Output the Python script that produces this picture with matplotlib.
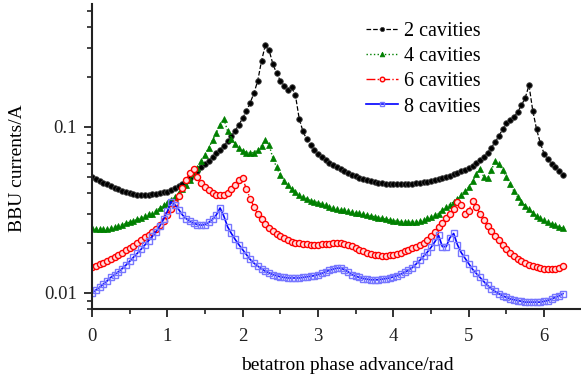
import numpy as np
import matplotlib
matplotlib.use("Agg")
import matplotlib.pyplot as plt
from matplotlib.ticker import LogLocator, NullFormatter, FixedLocator, FixedFormatter, MultipleLocator

plt.rcParams['font.family'] = ['Liberation Serif', 'DejaVu Serif']

phase = np.round(np.arange(126) * 0.05, 2)

cav2 = [0.050, 0.0485, 0.047, 0.046, 0.045, 0.044, 0.043, 0.042, 0.041, 0.0405,
        0.040, 0.0395, 0.039, 0.039, 0.039, 0.039, 0.0393, 0.0396, 0.040, 0.0403,
        0.0408, 0.0417, 0.0427, 0.044, 0.0453, 0.047, 0.0495, 0.052, 0.0545, 0.057,
        0.0595, 0.0625, 0.066, 0.0695, 0.073, 0.077, 0.082, 0.088, 0.095, 0.103,
        0.113, 0.125, 0.140, 0.160, 0.190, 0.250, 0.310, 0.290, 0.240, 0.210,
        0.190, 0.177, 0.167, 0.173, 0.155, 0.112, 0.094, 0.084, 0.078, 0.073,
        0.069, 0.066, 0.063, 0.061, 0.059, 0.057, 0.0555, 0.054, 0.0527, 0.0515,
        0.0505, 0.0495, 0.0485, 0.0478, 0.0472, 0.0466, 0.0462, 0.0458, 0.0455, 0.0453,
        0.0452, 0.0451, 0.0451, 0.0452, 0.0453, 0.0455, 0.0457, 0.0460, 0.0463, 0.0467,
        0.0472, 0.0477, 0.0483, 0.049, 0.0498, 0.0507, 0.0517, 0.0528, 0.054, 0.0553,
        0.0567, 0.0585, 0.0605, 0.063, 0.066, 0.070, 0.075, 0.081, 0.088, 0.097,
        0.105, 0.110, 0.115, 0.123, 0.135, 0.150, 0.178, 0.125, 0.097, 0.080,
        0.069, 0.064, 0.060, 0.057, 0.054, 0.051]

cav4 = [0.0245, 0.0243, 0.0242, 0.0242, 0.0243, 0.0245, 0.0248, 0.0252, 0.0257, 0.0262,
        0.0267, 0.0272, 0.0277, 0.0284, 0.0291, 0.0298, 0.030, 0.0313, 0.0325, 0.0338,
        0.0350, 0.0363, 0.038, 0.040, 0.042, 0.0445, 0.048, 0.052, 0.0565, 0.062,
        0.068, 0.075, 0.083, 0.092, 0.103, 0.112, 0.094, 0.085, 0.079, 0.075,
        0.072, 0.070, 0.0695, 0.070, 0.073, 0.077, 0.083, 0.078, 0.065, 0.057,
        0.051, 0.047, 0.0445, 0.042, 0.0405, 0.039, 0.038, 0.037, 0.036, 0.0355,
        0.035, 0.0343, 0.0337, 0.033, 0.0325, 0.032, 0.0317, 0.0314, 0.0311, 0.0308,
        0.0305, 0.0301, 0.0298, 0.0295, 0.0291, 0.0288, 0.0284, 0.0281, 0.0278, 0.0275,
        0.0272, 0.0270, 0.0268, 0.0267, 0.0267, 0.0267, 0.0268, 0.027, 0.0275, 0.0281,
        0.0287, 0.0293, 0.030, 0.0315, 0.0328, 0.034, 0.0355, 0.037, 0.039, 0.041,
        0.0435, 0.047, 0.052, 0.056, 0.050, 0.049, 0.055, 0.062, 0.060, 0.055,
        0.050, 0.045, 0.041, 0.0378, 0.0355, 0.0335, 0.032, 0.0305, 0.029, 0.0282,
        0.0274, 0.0267, 0.0261, 0.0255, 0.025, 0.0245]

cav6 = [0.0143, 0.0146, 0.0149, 0.0152, 0.0156, 0.016, 0.0165, 0.017, 0.0175, 0.0181,
        0.0187, 0.0193, 0.020, 0.0208, 0.0216, 0.0224, 0.0233, 0.0243, 0.0255, 0.0272,
        0.0295, 0.032, 0.035, 0.0385, 0.043, 0.048, 0.053, 0.056, 0.050, 0.046,
        0.0435, 0.0415, 0.040, 0.039, 0.0388, 0.039, 0.040, 0.042, 0.0445, 0.048,
        0.049, 0.042, 0.037, 0.033, 0.030, 0.0278, 0.026, 0.0246, 0.0235, 0.0227,
        0.022, 0.0213, 0.0208, 0.0204, 0.0201, 0.0199, 0.0197, 0.0196, 0.0195, 0.0195,
        0.0195, 0.0196, 0.0197, 0.0198, 0.0199, 0.020, 0.020, 0.0198, 0.0195, 0.0191,
        0.0187, 0.0182, 0.0178, 0.0175, 0.0172, 0.017, 0.0169, 0.0168, 0.0168, 0.0169,
        0.017, 0.0172, 0.0175, 0.0178, 0.0182, 0.0186, 0.019, 0.0195, 0.0201, 0.0209,
        0.022, 0.0234, 0.025, 0.0265, 0.0283, 0.030, 0.032, 0.0355, 0.034, 0.030,
        0.031, 0.036, 0.033, 0.030, 0.0275, 0.0253, 0.0235, 0.022, 0.0207, 0.0195,
        0.0184, 0.0175, 0.0167, 0.016, 0.0155, 0.0151, 0.0148, 0.0145, 0.0143, 0.0141,
        0.014, 0.0139, 0.0139, 0.014, 0.0142, 0.0145]

cav8 = [0.0100, 0.0104, 0.0108, 0.0113, 0.0118, 0.0124, 0.0129, 0.0134, 0.014, 0.0147,
        0.0155, 0.0164, 0.0173, 0.0183, 0.0194, 0.0206, 0.0219, 0.0234, 0.0253, 0.0278,
        0.031, 0.0355, 0.034, 0.0318, 0.0295, 0.028, 0.027, 0.0263, 0.0258, 0.0256,
        0.0258, 0.0266, 0.0278, 0.0295, 0.0325, 0.029, 0.025, 0.0228, 0.021, 0.0195,
        0.0182, 0.017, 0.0159, 0.0151, 0.0145, 0.014, 0.0135, 0.0132, 0.0129, 0.0127,
        0.0125, 0.0124, 0.0123, 0.0123, 0.0123, 0.0123, 0.0124, 0.0125, 0.0126, 0.0127,
        0.0129, 0.0131, 0.0134, 0.0137, 0.0139, 0.0141, 0.0141, 0.0138, 0.0134, 0.0129,
        0.0126, 0.0124, 0.0122, 0.0121, 0.012, 0.012, 0.012, 0.0121, 0.0122, 0.0123,
        0.0125, 0.0127, 0.013, 0.0133, 0.0137, 0.0142, 0.0149, 0.0157, 0.0166, 0.0176,
        0.0188, 0.0203, 0.0222, 0.019, 0.019, 0.0215, 0.0228, 0.0195, 0.0175, 0.0162,
        0.015, 0.0139, 0.0131, 0.0124, 0.0117, 0.0111, 0.0106, 0.0102, 0.0099, 0.0096,
        0.0094, 0.0092, 0.0091, 0.009, 0.0089, 0.0088, 0.0088, 0.0088, 0.0088, 0.0088,
        0.0089, 0.009, 0.0092, 0.0094, 0.0096, 0.0099]

labels = ["2 cavities", "4 cavities", "6 cavities", "8 cavities"]
xticks = [0, 1, 2, 3, 4, 5, 6]
yticks = [0.01, 0.1]
ytick_labels = ["0.01", "0.1"]

W, H = 581, 378
fig = plt.figure(figsize=(W / 100, H / 100), dpi=100)
ax = fig.add_axes([92 / W, (H - 309) / H, 1 - 92 / W, (309 - 4) / H])

ax.plot(phase, cav2, ls='--', color='black', lw=0.9, marker='o', ms=4.0,
        mfc='black', mec='#444444', mew=0.6, label=labels[0])
ax.plot(phase, cav4, ls=':', color='#008000', lw=1.0, marker='^', ms=4.6,
        mfc='#008000', mec='#008000', mew=0.5, label=labels[1])
ax.plot(phase, cav6, ls='-.', color='#ff0000', lw=1.0, marker='o', ms=4.4,
        mfc='#ffdddd', mec='#ff0000', mew=1.0, label=labels[2])
ax.plot(phase, cav8, ls='-', color='#0000ff', lw=1.2, marker='s', ms=4.2,
        mfc='none', mec='#7777ff', mew=1.0, label=labels[3])

ax.set_yscale('log')
ax.set_xlim(0, 6.49)
ax.set_ylim(0.008, 0.55)

ax.xaxis.set_major_locator(FixedLocator(xticks))
ax.xaxis.set_minor_locator(MultipleLocator(0.5))
ax.yaxis.set_major_locator(FixedLocator(yticks))
ax.yaxis.set_major_formatter(FixedFormatter(ytick_labels))
ax.yaxis.set_minor_locator(LogLocator(base=10, subs=np.arange(2, 10)))
ax.yaxis.set_minor_formatter(NullFormatter())

for s in ['top', 'right']:
    ax.spines[s].set_visible(False)
for s in ['left', 'bottom']:
    ax.spines[s].set_linewidth(1.5)
    ax.spines[s].set_color('#222222')

ax.tick_params(axis='both', which='major', direction='out', length=6, width=1.3,
               labelsize=13.5, colors='#222222', pad=5)
ax.tick_params(axis='both', which='minor', direction='out', length=3.5, width=1.2,
               colors='#222222')
ax.tick_params(axis='x', which='major', pad=8)

fig.text(347 / W, 1 - 365 / H, "betatron phase advance/rad", fontsize=14,
         ha='center', va='center')
fig.text(18 / W, 1 - 168 / H, "BBU currents/A", fontsize=14, rotation=90,
         ha='center', va='center')

leg = ax.legend(loc='upper left', bbox_to_anchor=(366 / W, 1 - 22 / H),
                bbox_transform=fig.transFigure, frameon=False, fontsize=14.5,
                numpoints=1, markerscale=0.75, handlelength=1.6, handletextpad=0.3,
                labelspacing=0.3, borderpad=0, borderaxespad=0)

fig.savefig("out.png", dpi=100)
